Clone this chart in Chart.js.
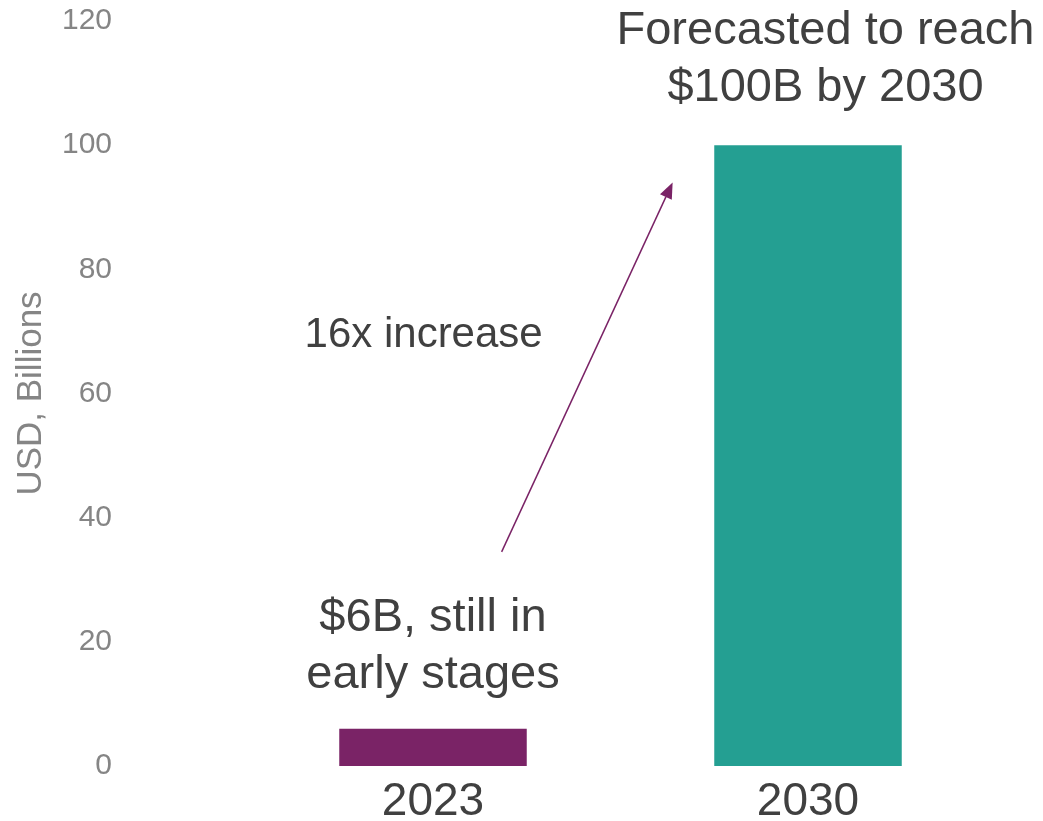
<!DOCTYPE html>
<html>
<head>
<meta charset="utf-8">
<script src="https://cdn.jsdelivr.net/npm/chart.js@4/dist/chart.umd.min.js"></script>
<style>
  html, body { margin: 0; padding: 0; background: #ffffff; }
  #wrap { width: 1043px; height: 821px; position: relative; }
</style>
</head>
<body>
<div id="wrap"><canvas id="c"></canvas></div>
<script>
// Market size, USD billions
const categories = ['2023', '2030'];
const marketSize = [6, 100];
const barColors = ['#7A2366', '#249F92'];
const barNotes = [
  ['$6B, still in', 'early stages'],
  ['Forecasted to reach', '$100B by 2030']
];
const growthNote = '16x increase';
const axisTitle = 'USD, Billions';
const yMin = 0;
const yMax = 120;
const yStep = 20;

const FONT = "'Liberation Sans', Arial, Helvetica, sans-serif";
const TEXT = '#404040';
const MUTED = '#858585';
const ARROW = '#7A2366';

// Callout texts above the bars and the growth arrow between them
const notesPlugin = {
  id: 'notes',
  afterDatasetsDraw(chart, args, opts) {
    const { ctx, scales: { x, y } } = chart;
    ctx.save();
    ctx.fillStyle = TEXT;
    ctx.textAlign = 'center';
    ctx.textBaseline = 'alphabetic';
    ctx.font = `47px ${FONT}`;
    barNotes.forEach((lines, i) => {
      const cx = x.getPixelForValue(i) + opts.noteShift[i];
      const top = y.getPixelForValue(marketSize[i]);
      lines.forEach((t, k) => {
        const base = top - opts.noteGap[i] - (lines.length - 1 - k) * opts.lineStep;
        ctx.fillText(t, cx, base);
      });
    });

    ctx.font = `42px ${FONT}`;
    ctx.fillText(growthNote, x.getPixelForValue(opts.growthAt[0]), y.getPixelForValue(opts.growthAt[1]));

    const x0 = x.getPixelForValue(opts.arrowFrom[0]);
    const y0 = y.getPixelForValue(opts.arrowFrom[1]);
    const x1 = x.getPixelForValue(opts.arrowTo[0]);
    const y1 = y.getPixelForValue(opts.arrowTo[1]);
    const ang = Math.atan2(y1 - y0, x1 - x0);
    const headLen = 16;
    const headHalf = 6.5;
    const bx = x1 - headLen * Math.cos(ang);
    const by = y1 - headLen * Math.sin(ang);

    ctx.strokeStyle = ARROW;
    ctx.lineWidth = 1.5;
    ctx.beginPath();
    ctx.moveTo(x0, y0);
    ctx.lineTo(bx, by);
    ctx.stroke();

    ctx.fillStyle = ARROW;
    ctx.beginPath();
    ctx.moveTo(x1, y1);
    ctx.lineTo(bx + headHalf * Math.sin(ang), by - headHalf * Math.cos(ang));
    ctx.lineTo(bx - headHalf * Math.sin(ang), by + headHalf * Math.cos(ang));
    ctx.closePath();
    ctx.fill();
    ctx.restore();
  }
};

new Chart(document.getElementById('c'), {
  type: 'bar',
  data: {
    labels: categories,
    datasets: [{
      data: marketSize,
      backgroundColor: barColors,
      borderWidth: 0,
      categoryPercentage: 1,
      barPercentage: 0.5
    }]
  },
  options: {
    responsive: true,
    maintainAspectRatio: false,
    animation: false,
    events: [],
    layout: { padding: { top: 21, left: 6, right: 47.5, bottom: 0 } },
    plugins: {
      legend: { display: false },
      tooltip: { enabled: false },
      notes: {
        noteShift: [0, 17.5],
        noteGap: [40.5, 44],
        lineStep: 57.5,
        growthAt: [-0.025, 67.5],
        arrowFrom: [0.183, 34.5],
        arrowTo: [0.639, 94.0]
      }
    },
    scales: {
      x: {
        grid: { display: false, drawTicks: false },
        border: { display: false },
        ticks: {
          color: TEXT,
          padding: 9,
          font: { family: FONT, size: 46 }
        },
        afterFit(scale) { scale.height = 55; }
      },
      y: {
        min: yMin,
        max: yMax,
        grid: { display: false, drawTicks: false },
        border: { display: false },
        ticks: {
          stepSize: yStep,
          color: MUTED,
          padding: 133.5,
          font: { family: FONT, size: 30 }
        },
        title: {
          display: true,
          text: axisTitle,
          color: MUTED,
          font: { family: FONT, size: 35 },
          padding: { top: 4, bottom: 4 }
        },
        afterFit(scale) {
          // the wide label gap must not push the plot area down
          scale.width = 239.5;
          scale.paddingTop = 0;
          scale.paddingBottom = 0;
        }
      }
    }
  },
  plugins: [notesPlugin]
});
</script>
</body>
</html>
